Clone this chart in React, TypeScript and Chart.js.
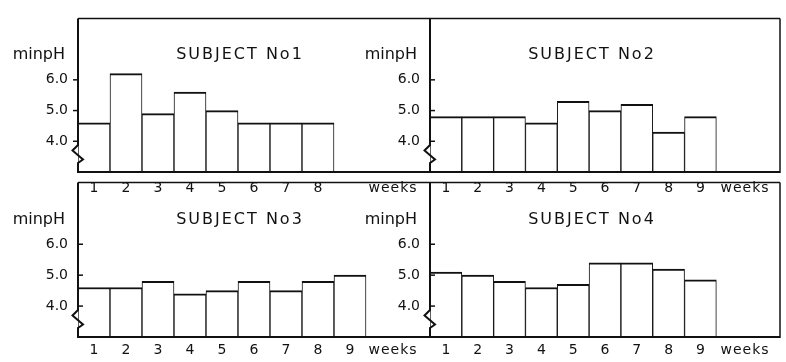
import React, { useEffect, useRef } from 'react';
import { Chart, registerables } from 'chart.js';

Chart.register(...registerables);

// ---- data ----
const weekLabels = ['1', '2', '3', '4', '5', '6', '7', '8', '9'];
const subject1 = [4.6, 6.2, 4.9, 5.6, 5.0, 4.6, 4.6, 4.6];
const subject2 = [4.8, 4.8, 4.8, 4.6, 5.3, 5.0, 5.2, 4.3, 4.8];
const subject3 = [4.6, 4.6, 4.8, 4.4, 4.5, 4.8, 4.5, 4.8, 5.0];
const subject4 = [5.1, 5.0, 4.8, 4.6, 4.7, 5.4, 5.4, 5.2, 4.85];
const subjectTitles = ['SUBJECT No1', 'SUBJECT No2', 'SUBJECT No3', 'SUBJECT No4'];
const yTickValues = [4, 5, 6];
const yMin = 3;
const yMax = 8;
const slotCount = 11;
const yAxisLabel = 'minpH';
const xAxisUnit = 'weeks';

const INK = '#111111';
const FONT = '"DejaVu Sans", sans-serif';

type PanelCfg = {
  title: string;
  values: number[];
  left: number;
  top: number;
  w: number;
  h: number;
  padRight: number;
  xAxisH: number;
  labelPad: number;
  drawRight: boolean;
  tickOut: boolean;
};

const panels: PanelCfg[] = [
  { title: subjectTitles[0], values: subject1, left: 0, top: 0, w: 430, h: 202, padRight: 0, xAxisH: 30, labelPad: 8, drawRight: false, tickOut: true },
  { title: subjectTitles[1], values: subject2, left: 352, top: 0, w: 434, h: 202, padRight: 6, xAxisH: 30, labelPad: 8, drawRight: true, tickOut: false },
  { title: subjectTitles[2], values: subject3, left: 0, top: 164, w: 430, h: 198, padRight: 0, xAxisH: 25, labelPad: 5, drawRight: false, tickOut: false },
  { title: subjectTitles[3], values: subject4, left: 352, top: 164, w: 434, h: 198, padRight: 6, xAxisH: 25, labelPad: 5, drawRight: true, tickOut: false },
];

function makeFramePlugin(cfg: PanelCfg) {
  return {
    id: 'frame',
    afterDraw(chart: any) {
      const { ctx, chartArea: a, scales } = chart;
      const ys = scales.y;
      const x0 = a.left;
      const b = a.bottom;
      const line = (x1: number, y1: number, x2: number, y2: number) => {
        ctx.beginPath();
        ctx.moveTo(x1, y1);
        ctx.lineTo(x2, y2);
        ctx.stroke();
      };
      ctx.save();
      ctx.strokeStyle = INK;
      ctx.lineCap = 'butt';
      ctx.lineJoin = 'miter';
      // top border
      ctx.lineWidth = 1.5;
      line(x0, a.top, a.right, a.top);
      // right border
      if (cfg.drawRight) {
        line(a.right, a.top, a.right, b + 1);
      }
      // bottom axis
      ctx.lineWidth = 2;
      line(x0 - 1, b, a.right, b);
      // left axis with break mark
      ctx.beginPath();
      ctx.moveTo(x0, a.top);
      ctx.lineTo(x0, b - 27);
      ctx.lineTo(x0 - 5.5, b - 21.5);
      ctx.lineTo(x0 + 5, b - 12.5);
      ctx.lineTo(x0, b - 9);
      ctx.lineTo(x0, b + 1);
      ctx.stroke();
      // tick marks
      ctx.lineWidth = 1.5;
      yTickValues.forEach((v) => {
        const py = ys.getPixelForValue(v);
        if (cfg.tickOut) line(x0 - 5, py, x0, py);
        else line(x0, py, x0 + 5, py);
      });
      // texts
      ctx.fillStyle = INK;
      ctx.textBaseline = 'middle';
      const ty = ys.getPixelForValue(6.8);
      ctx.font = `16px ${FONT}`;
      ctx.textAlign = 'right';
      ctx.fillText(yAxisLabel, x0 - 13, ty);
      (ctx as any).letterSpacing = '2px';
      ctx.textAlign = 'center';
      ctx.fillText(cfg.title, x0 + 162, ty);
      ctx.font = `14px ${FONT}`;
      (ctx as any).letterSpacing = '1px';
      ctx.fillText(xAxisUnit, x0 + 315, b + cfg.labelPad + 8.4);
      (ctx as any).letterSpacing = '0px';
      ctx.restore();
    },
  };
}

function Panel({ cfg }: { cfg: PanelCfg }) {
  const ref = useRef<HTMLCanvasElement | null>(null);
  useEffect(() => {
    if (!ref.current) return;
    const labels = Array.from({ length: slotCount }, (_, i) =>
      i < cfg.values.length ? weekLabels[i] : ''
    );
    const chart = new Chart(ref.current, {
      type: 'bar',
      data: {
        labels,
        datasets: [
          {
            data: cfg.values,
            backgroundColor: '#ffffff',
            borderColor: INK,
            borderWidth: { top: 2, left: 1, right: 1, bottom: 0 },
            borderSkipped: 'start',
            barPercentage: 1,
            categoryPercentage: 1,
          },
        ],
      },
      options: {
        responsive: false,
        animation: false,
        devicePixelRatio: 1,
        events: [],
        layout: { padding: { top: 8, left: 0, right: cfg.padRight, bottom: 0 } },
        plugins: {
          legend: { display: false },
          tooltip: { enabled: false },
          title: { display: false },
        },
        scales: {
          x: {
            type: 'category',
            offset: true,
            grid: { display: false, drawTicks: false },
            border: { display: false },
            ticks: {
              color: INK,
              font: { family: FONT, size: 14 },
              padding: cfg.labelPad,
              autoSkip: false,
              maxRotation: 0,
            },
            afterFit: (s: any) => {
              s.height = cfg.xAxisH;
            },
          },
          y: {
            type: 'linear',
            min: yMin,
            max: yMax,
            grid: { display: false, drawTicks: false },
            border: { display: false },
            ticks: {
              color: INK,
              font: { family: FONT, size: 14 },
              padding: 10,
              callback: (v: any) => Number(v).toFixed(1),
            },
            afterBuildTicks: (s: any) => {
              s.ticks = yTickValues.map((v) => ({ value: v }));
            },
            afterFit: (s: any) => {
              s.width = 78;
            },
          },
        },
      } as any,
      plugins: [makeFramePlugin(cfg)],
    });
    return () => chart.destroy();
  }, [cfg]);
  return (
    <canvas
      ref={ref}
      width={cfg.w}
      height={cfg.h}
      style={{ position: 'absolute', left: cfg.left, top: cfg.top, width: cfg.w, height: cfg.h }}
    />
  );
}

export default function App() {
  return (
    <div
      style={{
        position: 'fixed',
        left: 0,
        top: 0,
        width: 786,
        height: 362,
        background: '#ffffff',
        overflow: 'hidden',
      }}
    >
      {panels.map((p, i) => (
        <Panel key={i} cfg={p} />
      ))}
    </div>
  );
}
